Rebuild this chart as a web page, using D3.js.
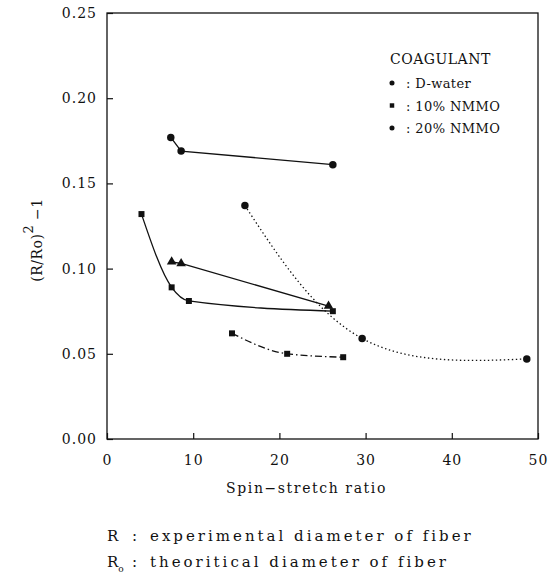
<!DOCTYPE html>
<html>
<head>
<meta charset="utf-8">
<script src="https://cdn.jsdelivr.net/npm/d3@7"></script>
<style>
  body { margin: 0; background: #fff; }
  text { font-family: "DejaVu Serif", serif; fill: #111; }
</style>
</head>
<body>
<svg id="drawing_region"></svg>
<script>
// values
const dWaterX = [7.4, 8.6, 26.2];
const dWaterY = [0.177, 0.169, 0.161];
const triX = [7.5, 8.6, 25.7];
const triY = [0.104, 0.103, 0.078];
const nmmo10X = [4.0, 7.5, 9.5, 26.2];
const nmmo10Y = [0.132, 0.089, 0.081, 0.075];
const dashX = [14.5, 20.9, 27.4];
const dashY = [0.062, 0.050, 0.048];
const nmmo20X = [16.0, 29.6, 48.7];
const nmmo20Y = [0.137, 0.059, 0.047];

const xTicks = [0, 10, 20, 30, 40, 50];
const yTicks = [0.00, 0.05, 0.10, 0.15, 0.20, 0.25];
const legendTitle = "COAGULANT";
const legendLabels = ["D-water", "10% NMMO", "20% NMMO"];
const legendSymbols = ["circle", "square", "circle"];

const width = 554, height = 580;
const margin = { top: 13, right: 16, bottom: 141, left: 107 };
const innerW = width - margin.left - margin.right;
const innerH = height - margin.top - margin.bottom;

const svg = d3.select('#drawing_region')
    .attr('width', width)
    .attr('height', height);
const chart = svg.append('g')
    .attr('transform', `translate(${margin.left}, ${margin.top})`);

const xscale = d3.scaleLinear().domain([0, 50]).range([0, innerW]);
const yscale = d3.scaleLinear().domain([0, 0.25]).range([innerH, 0]);

// frame
chart.append('rect')
    .attr('width', innerW).attr('height', innerH)
    .attr('fill', 'none').attr('stroke', '#111').attr('stroke-width', 1.3);

const xaxis = d3.axisBottom(xscale).tickValues(xTicks)
    .tickSizeInner(-6).tickSizeOuter(0).tickPadding(16)
    .tickFormat(d3.format('d'));
const xg = chart.append('g').attr('transform', `translate(0, ${innerH})`).call(xaxis);
const yaxis = d3.axisLeft(yscale).tickValues(yTicks)
    .tickSizeInner(-6).tickSizeOuter(0).tickPadding(10)
    .tickFormat(d3.format('.2f'));
const yg = chart.append('g').call(yaxis);
[xg, yg].forEach(g => {
    g.select('.domain').remove();
    g.selectAll('line').attr('stroke', '#111').attr('stroke-width', 1.2);
    g.selectAll('text').style('font-family', '"DejaVu Serif", serif')
        .style('font-size', '14px').style('letter-spacing', '1px').attr('fill', '#111');
});

// axis titles
svg.append('text')
    .attr('x', margin.left + xscale(25) - 16).attr('y', 493)
    .attr('text-anchor', 'middle')
    .style('font-size', '14px').style('letter-spacing', '1.6px')
    .text('Spin\u2212stretch ratio');

const ylab = svg.append('text')
    .attr('transform', 'translate(42, 240) rotate(-90)')
    .attr('text-anchor', 'middle')
    .style('font-size', '14px').style('letter-spacing', '0.5px');
ylab.append('tspan').text('(R/Ro)');
ylab.append('tspan').attr('dy', -9).style('font-size', '13px').text('2');
ylab.append('tspan').attr('dy', 9).text(' \u22121');

// series
const zip = (xs, ys) => xs.map((x, i) => ({ x: x, y: ys[i] }));
const series = [
    { data: zip(dWaterX, dWaterY), dash: null, sym: 'circle', curve: d3.curveLinear },
    { data: zip(triX, triY), dash: null, sym: 'triangle', curve: d3.curveLinear },
    { data: zip(nmmo10X, nmmo10Y), dash: null, sym: 'square', curve: d3.curveMonotoneX },
    { data: zip(dashX, dashY), dash: '7,3,1.5,3', sym: 'square', curve: d3.curveMonotoneX },
    { data: zip(nmmo20X, nmmo20Y), dash: '1.4,2.6', sym: 'circle', curve: d3.curveNatural }
];

const symSize = { circle: 44, square: 36, triangle: 40 };
const symType = { circle: d3.symbolCircle, square: d3.symbolSquare, triangle: d3.symbolTriangle };

series.forEach(s => {
    const line = d3.line()
        .x(d => xscale(d.x))
        .y(d => yscale(d.y))
        .curve(s.curve);
    chart.append('path')
        .attr('d', line(s.data))
        .attr('fill', 'none')
        .attr('stroke', '#111')
        .attr('stroke-width', 1.3)
        .attr('stroke-dasharray', s.dash);
    chart.selectAll(null)
        .data(s.data)
        .join('path')
        .attr('d', d3.symbol().type(symType[s.sym]).size(symSize[s.sym]))
        .attr('transform', d => `translate(${xscale(d.x)}, ${yscale(d.y)})`)
        .attr('fill', '#111');
});

// legend
const legend = svg.append('g').attr('transform', 'translate(390, 64)');
legend.append('text').attr('x', 0).attr('y', 0)
    .style('font-size', '14px').style('letter-spacing', '0.5px')
    .text(legendTitle);
legendLabels.forEach((lab, i) => {
    const yy = 19 + i * 22.5;
    legend.append('path')
        .attr('d', d3.symbol().type(symType[legendSymbols[i]]).size(20))
        .attr('transform', `translate(2, ${yy})`)
        .attr('fill', '#111');
    legend.append('text').attr('x', 16).attr('y', yy + 5)
        .style('font-size', '13px').style('letter-spacing', '0.4px')
        .text(': ' + lab);
});

// footnote
const notes = svg.append('g').attr('transform', 'translate(107, 541)');
const n1 = notes.append('text').attr('y', 0).style('font-size', '15px').style('letter-spacing', '3px');
n1.append('tspan').text('R');
n1.append('tspan').attr('x', 25).text(':');
n1.append('tspan').attr('x', 43).text('experimental diameter of fiber');
const n2 = notes.append('text').attr('y', 26).style('font-size', '15px').style('letter-spacing', '3px');
n2.append('tspan').style('letter-spacing', '0px').text('R');
n2.append('tspan').attr('dy', 5).style('font-size', '9px').style('letter-spacing', '0px').text('o');
n2.append('tspan').attr('x', 25).attr('dy', -5).text(':');
n2.append('tspan').attr('x', 43).text('theoritical diameter of fiber');
</script>
</body>
</html>
